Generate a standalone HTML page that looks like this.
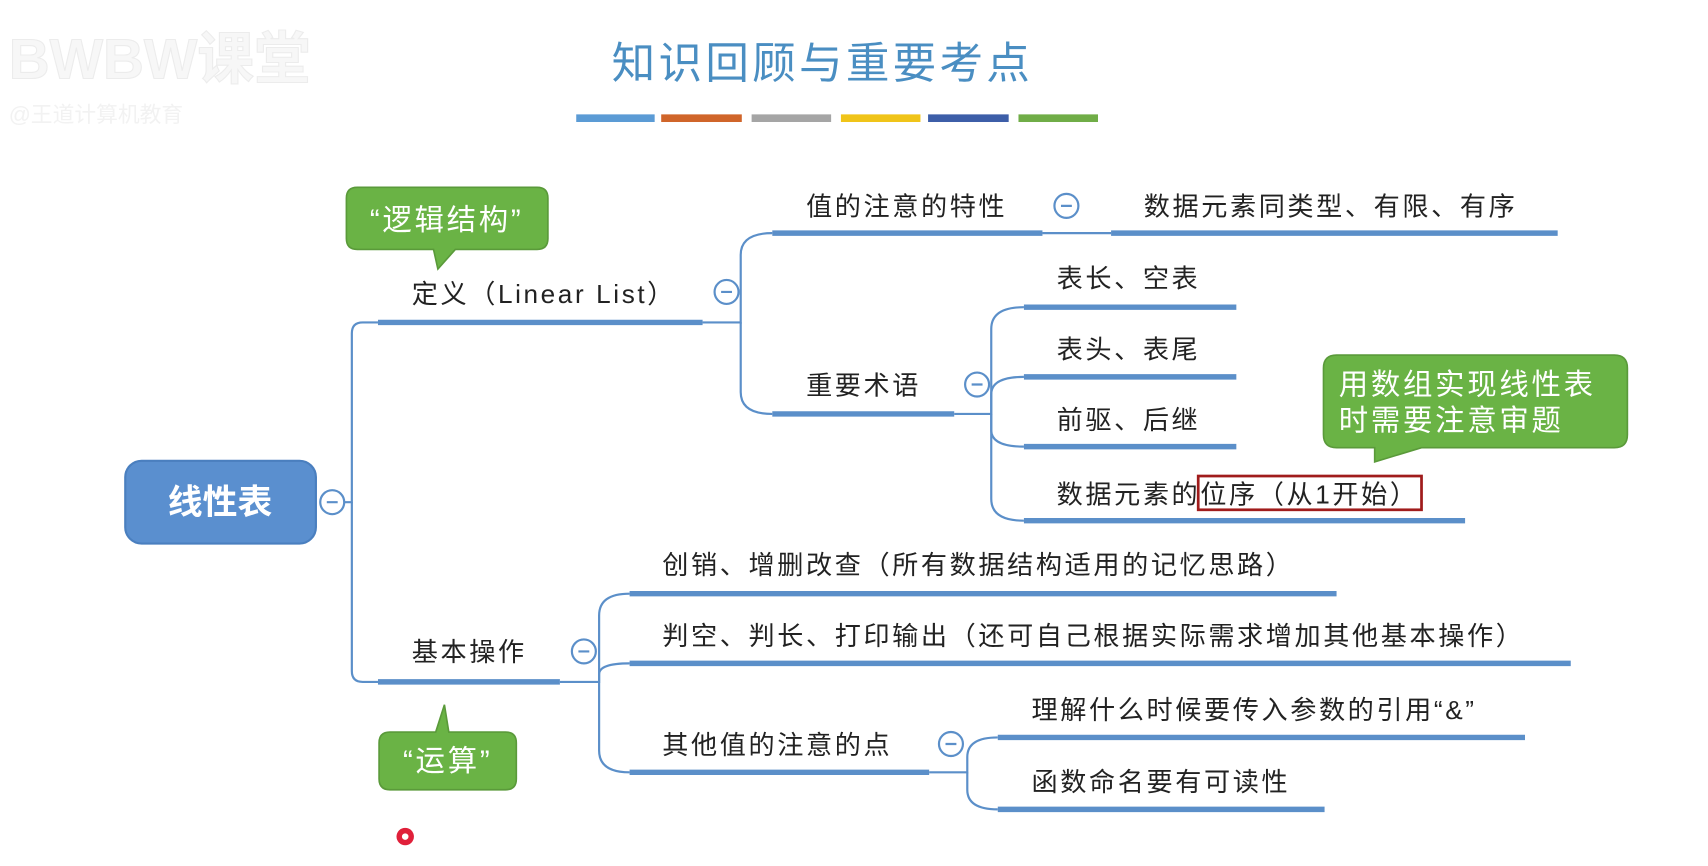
<!DOCTYPE html>
<html><head><meta charset="utf-8"><style>
html,body{margin:0;padding:0;background:#fff;width:1708px;height:866px;overflow:hidden}
svg{display:block}
text{font-family:"Liberation Sans","Noto Sans CJK SC",sans-serif}
</style></head><body>
<svg width="1708" height="866" viewBox="0 0 1568 795" preserveAspectRatio="none">
<!-- logo -->
<text x="8" y="72" font-size="52" font-weight="bold" fill="#f7f7f7" stroke="#ececec" stroke-width="1">BWBW课堂</text>
<text x="8" y="112" font-size="20" fill="#f2f2f2">@王道计算机教育</text>
<!-- title -->
<text x="755" y="72" font-size="40" letter-spacing="3" text-anchor="middle" fill="#4a8ec2" font-family="'Noto Sans CJK SC',sans-serif">知识回顾与重要考点</text>
<g>
<rect x="529" y="105" width="72" height="7" fill="#5b9bd5"/>
<rect x="607" y="105" width="74" height="7" fill="#d0652a"/>
<rect x="690" y="105" width="73" height="7" fill="#a5a5a5"/>
<rect x="772" y="105" width="73" height="7" fill="#f0c419"/>
<rect x="852" y="105" width="74" height="7" fill="#3d5ea8"/>
<rect x="935" y="105" width="73" height="7" fill="#70ad47"/>
</g>
<!-- connectors -->
<g fill="none" stroke="#5b8fc9" stroke-width="2">
<path d="M316 461 H323 V306 Q323 296 333 296 H347"/>
<path d="M323 461 V616 Q323 626 333 626 H347"/>
<path d="M645 296 H680 V234 Q680 214 709 214"/>
<path d="M680 296 V360 Q680 380 709 380"/>
<path d="M957 214 H1020"/>
<path d="M876 380 H910 V302 Q910 282 940 282"/>
<path d="M910 380 V362 Q910 346 940 346"/>
<path d="M910 380 V395 Q910 410 940 410"/>
<path d="M910 380 V458 Q910 478 940 478"/>
<path d="M514 626 H550 V565 Q550 545 578 545"/>
<path d="M550 626 V619 Q550 609 578 609"/>
<path d="M550 626 V689 Q550 709 578 709"/>
<path d="M853 709 H888 V695 Q888 677 916 677"/>
<path d="M888 709 V725 Q888 743 916 743"/>
</g>
<g stroke="#5b8fc9" stroke-width="5" fill="none">
<path d="M347 296 H645"/>
<path d="M347 626 H514"/>
<path d="M709 214 H957"/>
<path d="M1020 214 H1430"/>
<path d="M709 380 H876"/>
<path d="M940 282 H1135"/>
<path d="M940 346 H1135"/>
<path d="M940 410 H1135"/>
<path d="M940 478 H1345"/>
<path d="M578 545 H1227"/>
<path d="M578 609 H1442"/>
<path d="M578 709 H853"/>
<path d="M916 677 H1400"/>
<path d="M916 743 H1216"/>
</g>
<!-- root -->
<rect x="115" y="423" width="175" height="76" rx="15" fill="#5a8fcf" stroke="#4a7fbf" stroke-width="2"/>
<text x="202" y="472" font-size="32" font-weight="bold" fill="#fff" text-anchor="middle">线性表</text>
<!-- collapse circles -->
<g fill="#fff" stroke="#5b8fc9" stroke-width="2">
<circle cx="305" cy="461" r="11"/><circle cx="667" cy="268" r="11"/><circle cx="979" cy="189" r="11"/>
<circle cx="897" cy="353" r="11"/><circle cx="536" cy="598" r="11"/><circle cx="873" cy="683" r="11"/>
</g>
<g stroke="#5b8fc9" stroke-width="2">
<path d="M300 461h10M662 268h10M974 189h10M892 353h10M531 598h10M868 683h10"/>
</g>
<!-- labels -->
<g font-size="24" letter-spacing="2.4" fill="#222">
<text x="378" y="278">定义（Linear List）</text>
<text x="740" y="198">值的注意的特性</text>
<text x="1050" y="198">数据元素同类型、有限、有序</text>
<text x="740" y="362">重要术语</text>
<text x="970" y="264">表长、空表</text>
<text x="970" y="329">表头、表尾</text>
<text x="970" y="394">前驱、后继</text>
<text x="970" y="462">数据元素的位序（从1开始）</text>
<text x="378" y="607">基本操作</text>
<text x="608" y="527">创销、增删改查（所有数据结构适用的记忆思路）</text>
<text x="608" y="592">判空、判长、打印输出（还可自己根据实际需求增加其他基本操作）</text>
<text x="608" y="692">其他值的注意的点</text>
<text x="947" y="660">理解什么时候要传入参数的引用“&amp;”</text>
<text x="947" y="726">函数命名要有可读性</text>
</g>
<rect x="1100" y="437" width="205" height="31" fill="none" stroke="#a01c1c" stroke-width="2.5"/>
<!-- callouts -->
<g fill="#6ab345" stroke="#5a9a3a" stroke-width="1.5">
<path d="M328 172 H493 Q503 172 503 182 V219 Q503 229 493 229 H418 L402 247 L398 229 H328 Q318 229 318 219 V182 Q318 172 328 172Z"/>
<path d="M358 672 H400 L408 647 L412 672 H464 Q474 672 474 682 V715 Q474 725 464 725 H358 Q348 725 348 715 V682 Q348 672 358 672Z"/>
<path d="M1227 326 H1482 Q1494 326 1494 338 V399 Q1494 411 1482 411 H1305 L1262 424 L1262 411 H1227 Q1215 411 1215 399 V338 Q1215 326 1227 326Z"/>
</g>
<g fill="#fff" font-size="27" letter-spacing="2.5">
<text x="410" y="211" text-anchor="middle">“逻辑结构”</text>
<text x="411" y="708" text-anchor="middle">“运算”</text>
<text x="1229" y="362">用数组实现线性表</text>
<text x="1229" y="395">时需要注意审题</text>
</g>
<circle cx="372" cy="768" r="8" fill="#e0203a"/>
<circle cx="372" cy="768" r="3" fill="#fff"/>
</svg>
</body></html>
